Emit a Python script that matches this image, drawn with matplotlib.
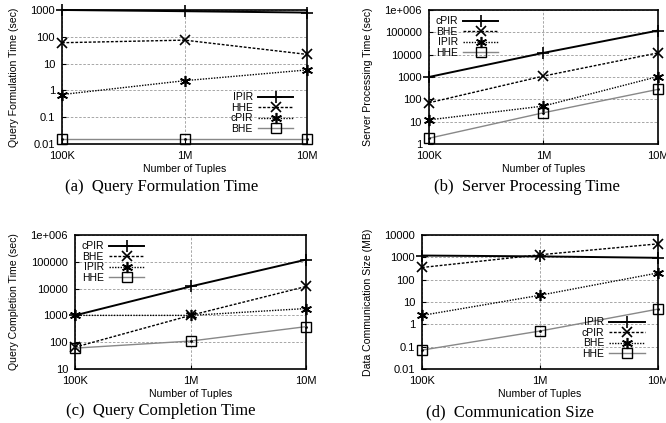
import matplotlib.pyplot as plt

# Data
tuples = [1e5, 1e6, 1e7]
tuple_labels = ["100K", "1M", "10M"]

# (a) Query Formulation Time
qf_ipir = [1000, 900, 800]
qf_hhe = [60, 75, 22]
qf_cpir = [0.7, 2.3, 5.8]
qf_bhe = [0.015, 0.015, 0.015]

# (b) Server Processing Time
sp_cpir = [1000, 12000, 120000]
sp_bhe = [70, 1100, 12000]
sp_ipir = [12, 50, 1050]
sp_hhe = [1.8, 25, 280]

# (c) Query Completion Time
qc_cpir = [1000, 12000, 120000]
qc_bhe = [65, 1000, 12000]
qc_ipir = [1000, 1000, 1800]
qc_hhe = [60, 110, 380]

# (d) Communication Size
cs_ipir = [1200, 1100, 950]
cs_cpir = [350, 1300, 4000]
cs_bhe = [2.5, 20, 200]
cs_hhe = [0.07, 0.5, 4.8]

plt.rcParams["font.family"] = ["Liberation Sans", "DejaVu Sans"]

# gnuplot-like styles: solid/+, dashed/x, dotted/*, gray/square
styles = [
    dict(color="black", lw=1.4, ls="-", marker="+", ms=9, mew=1.2),
    dict(color="black", lw=1.0, ls=(0, (2, 1.2)), marker="x", ms=7, mew=1.2),
    dict(color="black", lw=1.0, ls=(0, (1, 1)), marker=(6, 2, 0), ms=8, mew=1.2),
    dict(color="#888888", lw=1.0, ls="-", marker="s", ms=7.5, mew=1.0,
         mfc="none", mec="black"),
]


def panel(rect, series, names, yticks, yticklabels, ylabel,
          legend_loc, legend_anchor):
    ax = fig.add_axes(rect)
    for vals, name, st in zip(series, names, styles):
        ax.plot(tuples, vals, label=name, clip_on=False, zorder=3, **st)
    # dot inside square markers
    ax.plot(tuples, series[3], ls="none", marker=".", ms=2, color="black",
            clip_on=False, zorder=4)
    ax.set_xscale("log")
    ax.set_yscale("log")
    ax.set_xlim(tuples[0], tuples[-1])
    ax.set_ylim(yticks[0], yticks[-1])
    ax.set_xticks(tuples)
    ax.set_xticklabels(tuple_labels, fontsize=8)
    ax.set_yticks(yticks)
    ax.set_yticklabels(yticklabels, fontsize=8)
    ax.minorticks_off()
    ax.tick_params(direction="in", length=3, width=0.8, pad=5)
    ax.tick_params(axis="x", pad=5)
    ax.grid(True, ls=(0, (3, 2)), color="#999999", lw=0.6)
    for sp in ax.spines.values():
        sp.set_linewidth(1.2)
    ax.set_xlabel("Number of Tuples", fontsize=7.6, labelpad=2)
    ax.set_ylabel(ylabel, fontsize=7.6, labelpad=8)
    ax.legend(loc=legend_loc, bbox_to_anchor=legend_anchor, frameon=False,
              markerfirst=False, fontsize=7.5, handlelength=3.4,
              labelspacing=0.05, handletextpad=0.5, borderaxespad=0.2)
    return ax


fig = plt.figure(figsize=(6.66, 4.23), dpi=100)

panel([0.0931, 0.6596, 0.368, 0.3168],
      [qf_ipir, qf_hhe, qf_cpir, qf_bhe], ["IPIR", "HHE", "cPIR", "BHE"],
      [0.01, 0.1, 1, 10, 100, 1000],
      ["0.01", "0.1", "1", "10", "100", "1000"],
      "Query Formulation Time (sec)", "lower right", (0.97, 0.03))

panel([0.644, 0.6596, 0.344, 0.3168],
      [sp_cpir, sp_bhe, sp_ipir, sp_hhe], ["cPIR", "BHE", "IPIR", "HHE"],
      [1, 10, 100, 1000, 10000, 100000, 1e6],
      ["1", "10", "100", "1000", "10000", "100000", "1e+006"],
      "Server Processing Time (sec)", "upper left", (0.0, 1.0))

panel([0.1126, 0.1277, 0.347, 0.3168],
      [qc_cpir, qc_bhe, qc_ipir, qc_hhe], ["cPIR", "BHE", "IPIR", "HHE"],
      [10, 100, 1000, 10000, 100000, 1e6],
      ["10", "100", "1000", "10000", "100000", "1e+006"],
      "Query Completion Time (sec)", "upper left", (0.0, 1.0))

panel([0.6336, 0.1277, 0.3544, 0.3168],
      [cs_ipir, cs_cpir, cs_bhe, cs_hhe], ["IPIR", "cPIR", "BHE", "HHE"],
      [0.01, 0.1, 1, 10, 100, 1000, 10000],
      ["0.01", "0.1", "1", "10", "100", "1000", "10000"],
      "Data Communication Size (MB)", "lower right", (0.97, 0.03))

# sub-figure captions
cap = dict(fontsize=12, family=["Liberation Serif", "DejaVu Serif"],
           ha="center", va="center")
fig.text(0.243, 1 - 187 / 423, "(a)  Query Formulation Time", **cap)
fig.text(0.791, 1 - 187 / 423, "(b)  Server Processing Time", **cap)
fig.text(0.242, 1 - 411 / 423, "(c)  Query Completion Time", **cap)
fig.text(0.766, 1 - 412 / 423, "(d)  Communication Size", **cap)

plt.savefig("out.png", dpi=100)
